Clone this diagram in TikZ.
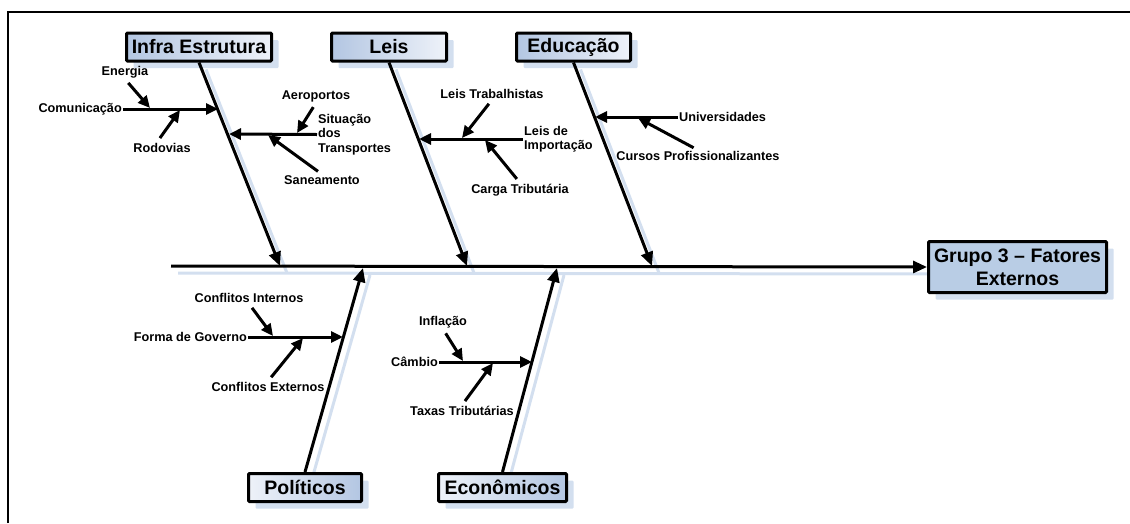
\documentclass[tikz,border=0pt]{standalone}
\usepackage{fontspec}
\setmainfont{Liberation Sans}
\usetikzlibrary{arrows.meta,shadows}
\definecolor{causeblue}{HTML}{B3C6E2}
\definecolor{causelight}{HTML}{EEF2F9}
\definecolor{effectblue}{HTML}{B9CDE5}
\definecolor{shadowblue}{HTML}{D3DFEF}
\pgfdeclarelayer{background}
\pgfsetlayers{background,main}

\tikzset{
  cause/.style={draw, line width=3pt, rounded corners=1pt, inner sep=2pt,
    minimum height=28pt, font=\bfseries\fontsize{19.5}{23}\selectfont,
    drop shadow={shadow xshift=7pt, shadow yshift=-7pt, fill=shadowblue, opacity=1}},
  topcause/.style={cause, left color=causeblue, right color=causelight},
  botcause/.style={cause, left color=causelight, right color=causeblue},
  effect/.style={cause, fill=effectblue, align=center, minimum width=178pt, minimum height=51pt},
  sublabel/.style={font=\bfseries\fontsize{12.7}{14.5}\selectfont, inner sep=1pt, align=left},
  bone/.style={line width=3pt, -{Triangle[length=14pt,width=12pt]}},
  subbone/.style={line width=3pt, -{Triangle[length=12pt,width=11pt]}},
  subarrow/.style={subbone, shorten <=5pt},
  boneshadow/.style={line width=3pt, shadowblue}
}

\begin{document}
\begin{tikzpicture}[x=1pt,y=-1pt]
    \useasboundingbox (0,0) rectangle (1130,523);
    % --- FRAME ---
    \draw[line width=2pt] (8,523) -- (8,12) -- (1130,12);

    % --- CAUSES AND EFFECT ---
    \node[topcause, minimum width=145pt] (infra) at (199,47) {Infra Estrutura};
    \node[topcause, minimum width=115pt] (leis) at (389,47) {Leis};
    \node[topcause, minimum width=114pt] (educ) at (573.5,47) {Educação};
    \node[botcause, minimum width=113pt] (polit) at (305,487.5) {Políticos};
    \node[botcause, minimum width=128pt] (econ) at (502.5,487.5) {Econômicos};
    \node[effect] (grupo) at (1017.5,267) {Grupo 3 – Fatores\\Externos};

    % --- SPINE AND BONES ---
    \coordinate (spine) at (171,266);
    \coordinate (infraend) at (280,266);
    \coordinate (leisend) at (467,266);
    \coordinate (educend) at (652,266);
    \coordinate (politend) at (363,268);
    \coordinate (econend) at (557,268);
    \begin{pgfonlayer}{background}
    \foreach \a/\b in {spine/grupo.west, infra.south/infraend, leis.south/leisend,
        educ.south/educend, polit.north/politend, econ.north/econend}
      \draw[boneshadow] ([shift={(7,7)}]\a) -- ([shift={(7,7)}]\b);
    \end{pgfonlayer}
    \draw[bone] (spine) -- (grupo.west);
    \draw[bone] (infra.south) -- (infraend);
    \draw[bone] (leis.south) -- (leisend);
    \draw[bone] (educ.south) -- (educend);
    \draw[bone] (polit.north) -- (politend);
    \draw[bone] (econ.north) -- (econend);

    % --- INFRA ESTRUTURA ---
    \node[sublabel, anchor=east] (comunic) at (123,109) {Comunicação};
    \coordinate (comunicend) at (218,109);
    \draw[subbone] (comunic.east) -- (comunicend);
    \node[sublabel] (energia) at (125,72) {Energia};
    \coordinate (energiaend) at (150,108);
    \draw[subarrow] (energia.south) -- (energiaend);
    \node[sublabel] (rodovias) at (162,148) {Rodovias};
    \coordinate (rodoviasend) at (180,110);
    \draw[subarrow] ([xshift=-5pt]rodovias.north) -- (rodoviasend);
    \node[sublabel, anchor=west] (transp) at (317,134.5) {Situação\\dos\\Transportes};
    \coordinate (transpend) at (229,134);
    \draw[subbone] (transp.west) -- (transpend);
    \node[sublabel] (aero) at (316,96) {Aeroportos};
    \coordinate (aeroend) at (297,133);
    \draw[subarrow] (aero.south) -- (aeroend);
    \node[sublabel] (saneam) at (322,180) {Saneamento};
    \coordinate (saneamend) at (268,135);
    \draw[subarrow] (saneam.north) -- (saneamend);

    % --- LEIS ---
    \node[sublabel, anchor=west] (importa) at (523,139) {Leis de\\Importação};
    \coordinate (importaend) at (419,139);
    \draw[subbone] (importa.west) -- (importaend);
    \node[sublabel] (trabalho) at (492,94) {Leis Trabalhistas};
    \coordinate (trabalhoend) at (462,138);
    \draw[subarrow] (trabalho.south) -- (trabalhoend);
    \node[sublabel] (carga) at (520,190) {Carga Tributária};
    \coordinate (cargaend) at (485,140);
    \draw[subarrow] (carga.north) -- (cargaend);

    % --- EDUCACAO ---
    \node[sublabel, anchor=west] (univ) at (678,117) {Universidades};
    \coordinate (univend) at (595,117);
    \draw[subbone] (univ.west) -- (univend);
    \node[sublabel] (cursos) at (698,156) {Cursos Profissionalizantes};
    \coordinate (cursosend) at (638,118);
    \draw[subarrow] (cursos.north) -- (cursosend);

    % --- POLITICOS ---
    \node[sublabel, anchor=east] (forma) at (248,337) {Forma de Governo};
    \coordinate (formaend) at (343,337);
    \draw[subbone] (forma.east) -- (formaend);
    \node[sublabel] (internos) at (249,298) {Conflitos Internos};
    \coordinate (internosend) at (273,336);
    \draw[subarrow] (internos.south) -- (internosend);
    \node[sublabel] (externos) at (268,387) {Conflitos Externos};
    \coordinate (externosend) at (303,338);
    \draw[subarrow] (externos.north) -- (externosend);

    % --- ECONOMICOS ---
    \node[sublabel, anchor=east] (cambio) at (439,362) {Câmbio};
    \coordinate (cambioend) at (532,362);
    \draw[subbone] (cambio.east) -- (cambioend);
    \node[sublabel] (inflacao) at (443,322) {Inflação};
    \coordinate (inflacaoend) at (463,361);
    \draw[subarrow] (inflacao.south) -- (inflacaoend);
    \node[sublabel] (taxas) at (462,411) {Taxas Tributárias};
    \coordinate (taxasend) at (493,363);
    \draw[subarrow] (taxas.north) -- (taxasend);
\end{tikzpicture}
\end{document}
